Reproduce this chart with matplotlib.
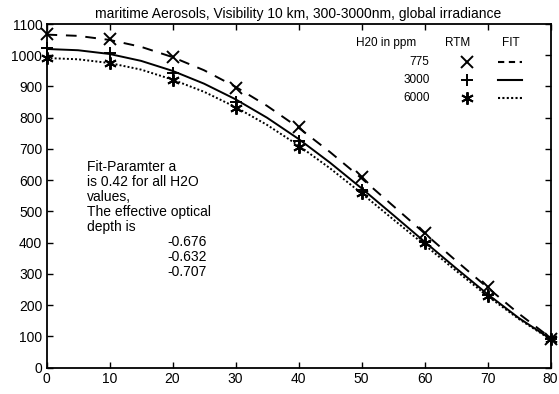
import matplotlib
matplotlib.use("Agg")
import matplotlib.pyplot as plt
from matplotlib.lines import Line2D

plt.rcParams['font.family'] = ['Liberation Sans', 'DejaVu Sans']

title = "maritime Aerosols, Visibility 10 km, 300-3000nm, global irradiance"

# RTM points
angles = [0, 10, 20, 30, 40, 50, 60, 70, 80]
rtm_775 = [1068, 1051, 993, 896, 769, 611, 430, 257, 92]
rtm_3000 = [1022, 1007, 944, 851, 724, 570, 402, 233, 92]
rtm_6000 = [991, 976, 920, 830, 707, 558, 398, 229, 90]

# FIT curves
fit_angles = [0, 5, 10, 15, 20, 25, 30, 35, 40, 45, 50, 55, 60, 65, 70, 75, 80]
fit_775 = [1066, 1062, 1049, 1027, 994, 952, 899, 838, 768, 690, 606, 518, 430, 342, 256, 172, 95]
fit_3000 = [1020, 1016, 1004, 982, 950, 909, 859, 800, 732, 656, 574, 489, 403, 318, 235, 158, 92]
fit_6000 = [991, 987, 975, 954, 922, 883, 834, 777, 711, 638, 558, 475, 393, 310, 229, 155, 90]

legend_labels = ["775", "3000", "6000"]
annotation = ["Fit-Paramter a", "is 0.42 for all H2O", "values,", "The effective optical", "depth is"]
tau_values = ["-0.676", "-0.632", "-0.707"]

xticks = [0, 10, 20, 30, 40, 50, 60, 70, 80]
yticks = [0, 100, 200, 300, 400, 500, 600, 700, 800, 900, 1000, 1100]

fig = plt.figure(figsize=(5.59, 3.94), dpi=100)
L, R, T, B = 46.5, 550.5, 24.0, 367.5
ax = fig.add_axes([L/559, (394-B)/394, (R-L)/559, (B-T)/394])

asterisk = (6, 2, 0)
ls_dash = (0, (5.5, 4.5))
ls_dot = (0, (1, 1.1))
lw = 1.4
ax.plot(fit_angles, fit_775, color='black', lw=lw, linestyle=ls_dash)
ax.plot(fit_angles, fit_3000, color='black', lw=lw, linestyle='-')
ax.plot(fit_angles, fit_6000, color='black', lw=lw, linestyle=ls_dot)
ax.plot(angles, rtm_775, linestyle='none', marker='x', ms=8, mew=1.4, color='black', clip_on=False)
ax.plot(angles, rtm_3000, linestyle='none', marker='+', ms=9, mew=1.4, color='black', clip_on=False)
ax.plot(angles, rtm_6000, linestyle='none', marker=asterisk, ms=9, mew=1.4, color='black', clip_on=False)

ax.set_xlim(0, 80)
ax.set_ylim(0, 1100)
ax.set_xticks(xticks)
ax.set_yticks(yticks)
ax.tick_params(direction='in', top=True, right=True, length=4, width=1, labelsize=10, pad=3)
for s in ax.spines.values():
    s.set_linewidth(1.3)
ax.set_title(title, fontsize=10, pad=4)

# legend table
tr = ax.transAxes
fs_leg = 8.5
ax.text(0.733, 0.945, "H20 in ppm", transform=tr, ha='right', va='center', fontsize=fs_leg)
ax.text(0.816, 0.945, "RTM", transform=tr, ha='center', va='center', fontsize=fs_leg)
ax.text(0.921, 0.945, "FIT", transform=tr, ha='center', va='center', fontsize=fs_leg)
rows = [0.890, 0.838, 0.786]
mk = ['x', '+', asterisk]
mks = [8, 9, 9]
lss = [(0, (3, 2.2)), '-', ls_dot]
for lab, yy, m, ms, ls in zip(legend_labels, rows, mk, mks, lss):
    ax.text(0.760, yy, lab, transform=tr, ha='right', va='center', fontsize=fs_leg)
    ax.add_line(Line2D([0.835], [yy], transform=tr, marker=m, ms=ms, mew=1.4, color='black', linestyle='none'))
    ax.add_line(Line2D([0.896, 0.943], [yy, yy], transform=tr, color='black', lw=1.5, linestyle=ls))

# annotation
y0 = 0.584
dy = 0.0437
for i, line in enumerate(annotation):
    ax.text(0.081, y0 - i * dy, line, transform=tr, ha='left', va='center', fontsize=10)
for j, v in enumerate(tau_values):
    ax.text(0.318, y0 - (len(annotation) + j) * dy, v, transform=tr, ha='right', va='center', fontsize=10)

fig.savefig("out.png", dpi=100)
